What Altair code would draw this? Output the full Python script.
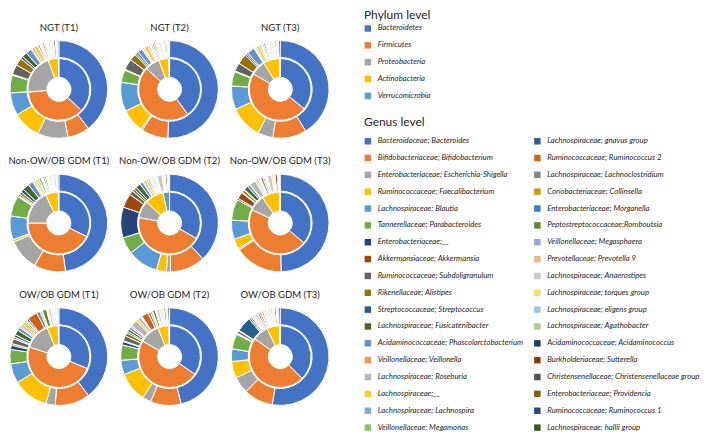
import altair as alt
import pandas as pd

# ---------------- data ----------------
panels = ["NGT (T1)", "NGT (T2)", "NGT (T3)",
          "Non-OW/OB GDM (T1)", "Non-OW/OB GDM (T2)", "Non-OW/OB GDM (T3)",
          "OW/OB GDM (T1)", "OW/OB GDM (T2)", "OW/OB GDM (T3)"]
panel_rows = [0, 0, 0, 1, 1, 1, 2, 2, 2]
panel_cols = [0, 1, 2, 0, 1, 2, 0, 1, 2]

phyla = ["Bacteroidetes", "Firmicutes", "Proteobacteria", "Actinobacteria", "Verrucomicrobia"]
phylum_colors = ["#4472C4", "#ED7D31", "#A5A5A5", "#FFC000", "#5B9BD5"]

genera = [
    "Bacteroidaceae; Bacteroides", "Bifidobacteriaceae; Bifidobacterium",
    "Enterobacteriaceae; Escherichia-Shigella", "Ruminococcaceae; Faecalibacterium",
    "Lachnospiraceae; Blautia", "Tannerellaceae; Parabacteroides",
    "Enterobacteriaceae;__", "Akkermansiaceae; Akkermansia",
    "Ruminococcaceae;  Subdoligranulum", "Rikenellaceae; Alistipes",
    "Streptococcaceae; Streptococcus", "Lachnospiraceae; Fusicatenibacter",
    "Acidaminococcaceae; Phascolarctobacterium", "Veillonellaceae; Veillonella",
    "Lachnospiraceae; Roseburia", "Lachnospiraceae;__",
    "Lachnospiraceae; Lachnospira", "Veillonellaceae; Megamonas",
    "Lachnospiraceae; gnavus group", "Ruminococcaceae; Ruminococcus 2",
    "Lachnospiraceae; Lachnoclostridium", "Coriobacteriaceae; Collinsella",
    "Enterobacteriaceae; Morganella", "Peptostreptococcaceae;Romboutsia",
    "Veillonellaceae; Megasphaera", "Prevotellaceae; Prevotella 9",
    "Lachnospiraceae; Anaerostipes", "Lachnospiraceae; torques group",
    "Lachnospiraceae; eligens group", "Lachnospiraceae; Agathobacter",
    "Acidaminococcaceae; Acidaminococcus", "Burkholderiaceae; Sutterella",
    "Christensenellaceae; Christensenellaceae group", "Enterobacteriaceae; Providencia",
    "Ruminococcaceae; Ruminococcus 1", "Lachnospiraceae; hallii group",
]
genus_colors = [
    "#4472C4", "#ED7D31", "#A5A5A5", "#FFC000", "#5B9BD5", "#70AD47",
    "#264478", "#9E480E", "#636363", "#997300", "#255E91", "#43682B",
    "#698ED0", "#F1975A", "#B7B7B7", "#FFCD33", "#7CAFDD", "#8CC168",
    "#335AA1", "#D26012", "#848484", "#CC9A00", "#327DC3", "#5A8C38",
    "#8FAADC", "#F4B183", "#C9C9C9", "#FFD966", "#9DC3E6", "#A9D18E",
    "#203864", "#843C0C", "#525252", "#7F6000", "#1F4E79", "#385723",
]

# inner ring (phylum), per panel
phylum_ngt_t1 = [133, 132, 75, 19, 1]
phylum_ngt_t2 = [144, 168, 28, 19, 1]
phylum_ngt_t3 = [129, 171, 28, 31, 1]
phylum_non_t1 = [116, 154, 65, 24, 1]
phylum_non_t2 = [120, 160, 32, 36, 12]
phylum_non_t3 = [130, 165, 30, 34, 1]
phylum_ow_t1 = [113, 175, 50, 21, 1]
phylum_ow_t2 = [125, 175, 38, 21, 1]
phylum_ow_t3 = [135, 170, 30, 24, 1]

# outer ring (genus), per panel, in legend order
genus_ngt_t1 = [142, 26, 36, 33, 27, 21, 0.5, 0.5, 12, 9, 3, 6, 7, 1, 3, 5, 2.5, 1,
                1, 1.5, 2, 1.5, 0.5, 1, 1, 1, 2, 2, 1, 1, 0.5, 2, 1, 0.5, 1, 1.5]
genus_ngt_t2 = [183, 32, 2, 28, 35, 15, 0.5, 0.5, 13, 8, 2, 2.5, 6, 1, 2, 5, 2, 1,
                1, 1.5, 2, 2, 0.5, 1, 1.5, 1, 2, 2, 1, 1, 0.5, 1.5, 1.5, 1, 1, 1.5]
genus_ngt_t3 = [148, 40, 18, 39, 28, 17, 0.5, 0.5, 10, 12, 2, 2, 9, 1, 2, 4, 2, 1,
                1, 1.5, 2, 1.5, 0.5, 1, 1, 1, 2, 2, 1, 1, 0.5, 1.5, 1, 1, 1, 2]
genus_non_t1 = [170, 37, 37, 3, 28, 24, 1, 0.5, 2, 3, 4, 8, 6, 1, 2, 3, 2, 3,
                1, 1, 2, 2, 0.5, 1, 1, 1, 2, 1.5, 1, 1, 0.5, 1.5, 1, 0.5, 1, 1.5]
genus_non_t2 = [138, 42, 5, 12, 37, 20, 37, 17, 5, 3, 3, 6, 4, 1, 3, 3, 2, 1,
                1, 1, 1.5, 1.5, 0.5, 1, 1, 1, 6, 1.5, 1, 1, 0.5, 2, 1, 0.5, 0.5, 1]
genus_non_t3 = [180, 58, 2, 12, 23, 25, 2, 8, 1, 3, 1, 5, 3, 1, 7, 2, 2, 1,
                1, 1, 3, 2, 0.5, 1, 1, 1, 5, 2, 1, 1, 0.5, 2.5, 1, 0.5, 1, 1]
genus_ow_t1 = [141, 41, 11, 42, 23, 17, 5, 2, 6, 2, 3, 6, 4, 2, 3, 4, 2, 1,
               2, 12, 4, 2, 1, 5, 1, 1, 3, 2, 1, 1, 1, 1, 1, 0.5, 1, 1]
genus_ow_t2 = [164, 36, 10, 35, 17, 18, 4, 1, 6, 4, 2, 3, 3, 2, 8, 3, 3, 1,
               1, 8, 3, 2, 1, 3, 1, 1, 3, 2, 2, 1, 0.5, 2, 1, 0.5, 1, 2]
genus_ow_t3 = [190, 35, 20, 20, 15, 18, 1, 0.5, 3, 1, 18, 2, 2, 1.5, 1.5, 2, 2, 1,
               2, 2, 1, 2, 1, 1, 1.5, 1.5, 2, 2, 2, 1.5, 1, 2, 1, 1, 1, 2]

phylum_values = [phylum_ngt_t1, phylum_ngt_t2, phylum_ngt_t3,
                 phylum_non_t1, phylum_non_t2, phylum_non_t3,
                 phylum_ow_t1, phylum_ow_t2, phylum_ow_t3]
genus_values = [genus_ngt_t1, genus_ngt_t2, genus_ngt_t3,
                genus_non_t1, genus_non_t2, genus_non_t3,
                genus_ow_t1, genus_ow_t2, genus_ow_t3]

# ---------------- tables ----------------
inner_rows, outer_rows, title_rows = [], [], []
for p, r, c, pv, gv in zip(panels, panel_rows, panel_cols, phylum_values, genus_values):
    title_rows.append({"panel": p, "row": r, "col": c})
    for i, (name, v) in enumerate(zip(phyla, pv)):
        if v > 0:
            inner_rows.append({"panel": p, "row": r, "col": c, "phylum": name, "idx": i, "value": v})
    for i, (name, v) in enumerate(zip(genera, gv)):
        if v > 0:
            outer_rows.append({"panel": p, "row": r, "col": c, "genus": name, "idx": i, "value": v})
inner_df = pd.DataFrame(inner_rows)
outer_df = pd.DataFrame(outer_rows)
title_df = pd.DataFrame(title_rows)

FONT = "Lato"
TXT = "#262626"

xs = alt.X("col:Q", scale=alt.Scale(domain=[0, 2], range=[48, 270], nice=False, zero=False), axis=None)
ys = alt.Y("row:Q", scale=alt.Scale(domain=[0, 2], range=[81, 349], nice=False, zero=False), axis=None)
theta_scale = alt.Scale(domain=[0, 1], range=[0, 6.283185307179586])


def ring(df):
    return (alt.Chart(df)
            .transform_joinaggregate(total="sum(value)", groupby=["panel"])
            .transform_window(cum="sum(value)", groupby=["panel"],
                              sort=[alt.SortField("idx")], frame=[None, 0])
            .transform_calculate(start="(datum.cum - datum.value) / datum.total",
                                 end="datum.cum / datum.total"))


leg_common = dict(orient="none", direction="vertical", symbolType="square",
                  symbolSize=42, symbolStrokeWidth=0, labelFont=FONT,
                  labelFontSize=7.8, labelFontStyle="italic", labelColor=TXT,
                  titleFont=FONT, titleFontSize=12, titleFontWeight="normal",
                  titleColor=TXT, padding=0, labelOffset=6, rowPadding=7.9,
                  labelLimit=300, symbolLimit=60)

inner = ring(inner_df).mark_arc(innerRadius=12, outerRadius=31, stroke="white", strokeWidth=1).encode(
    x=xs, y=ys,
    theta=alt.Theta("start:Q", stack=False, scale=theta_scale),
    theta2="end:Q",
    color=alt.Color("phylum:N", scale=alt.Scale(domain=phyla, range=phylum_colors),
                    legend=alt.Legend(title="Phylum level", legendX=354, legendY=1,
                                      titlePadding=3, **leg_common)),
)

outer = ring(outer_df).mark_arc(innerRadius=32, outerRadius=49, stroke="white", strokeWidth=1).encode(
    x=xs, y=ys,
    theta=alt.Theta("start:Q", stack=False, scale=theta_scale),
    theta2="end:Q",
    fill=alt.Fill("genus:N", scale=alt.Scale(domain=genera, range=genus_colors),
                  legend=alt.Legend(title="Genus level", legendX=354, legendY=109,
                                    titlePadding=8, columns=2, columnPadding=10,
                                    **leg_common)),
)

titles = alt.Chart(title_df).mark_text(dy=-62, font=FONT, fontSize=9.6, color=TXT).encode(
    x=xs, y=ys, text="panel:N")

chart = (alt.layer(inner, outer, titles)
         .resolve_scale(color="independent", fill="independent")
         .properties(width=340, height=420, padding=0, background="white")
         .configure_view(stroke=None))

chart.save("out.html", embed_options={"renderer": "svg", "actions": False})
